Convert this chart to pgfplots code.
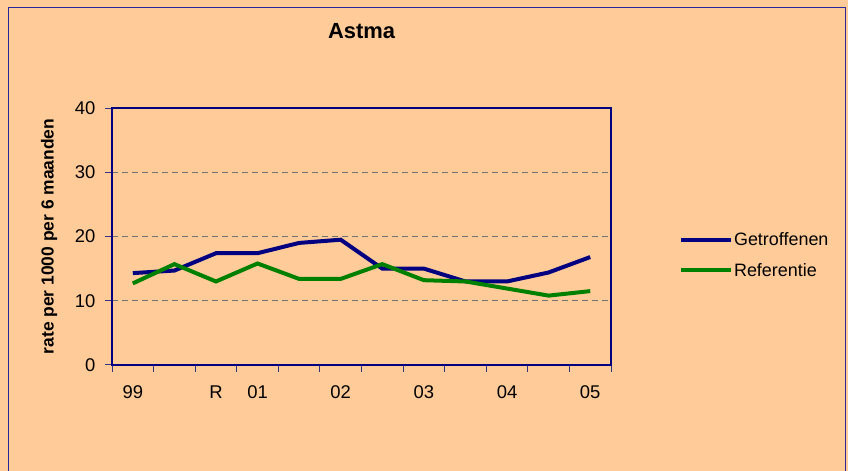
\documentclass[border=0pt]{standalone}
\usepackage{fontspec}
\setmainfont{Liberation Sans}
\usepackage{pgfplots}
\pgfplotsset{compat=1.18}
\definecolor{peach}{RGB}{255,204,153}
\definecolor{navyline}{RGB}{0,0,128}
\definecolor{greenline}{RGB}{0,128,0}
\definecolor{frame}{RGB}{40,40,150}

\begin{document}
\begin{tikzpicture}
\useasboundingbox (0,0) rectangle (848bp,471bp);
\fill[peach] (0,0) rectangle (848bp,471bp);
\draw[frame, line width=1.8bp] (8.5bp,-5bp) -- (8.5bp,463.5bp) -- (845.5bp,463.5bp) -- (845.5bp,-5bp);
\begin{axis}[
    at={(112bp,106bp)}, anchor=south west,
    scale only axis, width=499bp, height=257bp,
    xmin=0.5, xmax=12.5, ymin=0, ymax=40,
    xtick={0.5,1.5,...,12.5},
    x tick label as interval,
    xticklabels={99,,R,01,,02,,03,,04,,05},
    ytick={0,10,20,30,40},
    xtick pos=bottom, ytick pos=left,
    /pgf/number format/assume math mode=true,
    tick label style={font=\fontsize{18.5}{21}\selectfont},
    x tick label style={yshift=-10bp},
    y tick label style={xshift=-6bp},
    ymajorgrids,
    grid style={dash pattern=on 6bp off 4bp, black!55, line width=0.8bp},
    axis line style={navyline, line width=1.5bp},
    tick align=outside, major tick length=7bp,
    tick style={navyline!60!gray, line width=1bp},
    title={Astma},
    title style={font=\bfseries\fontsize{22}{26}\selectfont, at={(0.5,1)}, anchor=center, yshift=71bp},
    ylabel={rate per 1000 per 6 maanden},
    ylabel style={font=\bfseries\fontsize{17.5}{20}\selectfont, at={(axis description cs:-0.1262,0.5)}, anchor=center},
    legend style={at={(1.13,0.527)}, anchor=north west, draw=none, fill=none,
        font=\fontsize{18}{21}\selectfont, row sep=14bp,
        nodes={inner sep=1bp}},
    legend cell align=left,
    legend image code/.code={\draw[#1, line width=4bp] (0bp,0bp) -- (50bp,0bp);},
]
\addplot[navyline, line width=4bp] coordinates {
    (1,14.3)(2,14.7)(3,17.4)(4,17.4)(5,19.0)(6,19.5)
    (7,15.0)(8,15.0)(9,13.0)(10,13.0)(11,14.4)(12,16.8)
};
\addlegendentry{Getroffenen}
\addplot[greenline, line width=4bp] coordinates {
    (1,12.7)(2,15.7)(3,13.0)(4,15.8)(5,13.4)(6,13.4)
    (7,15.7)(8,13.2)(9,13.0)(10,11.9)(11,10.8)(12,11.5)
};
\addlegendentry{Referentie}
\end{axis}
\end{tikzpicture}
\end{document}
